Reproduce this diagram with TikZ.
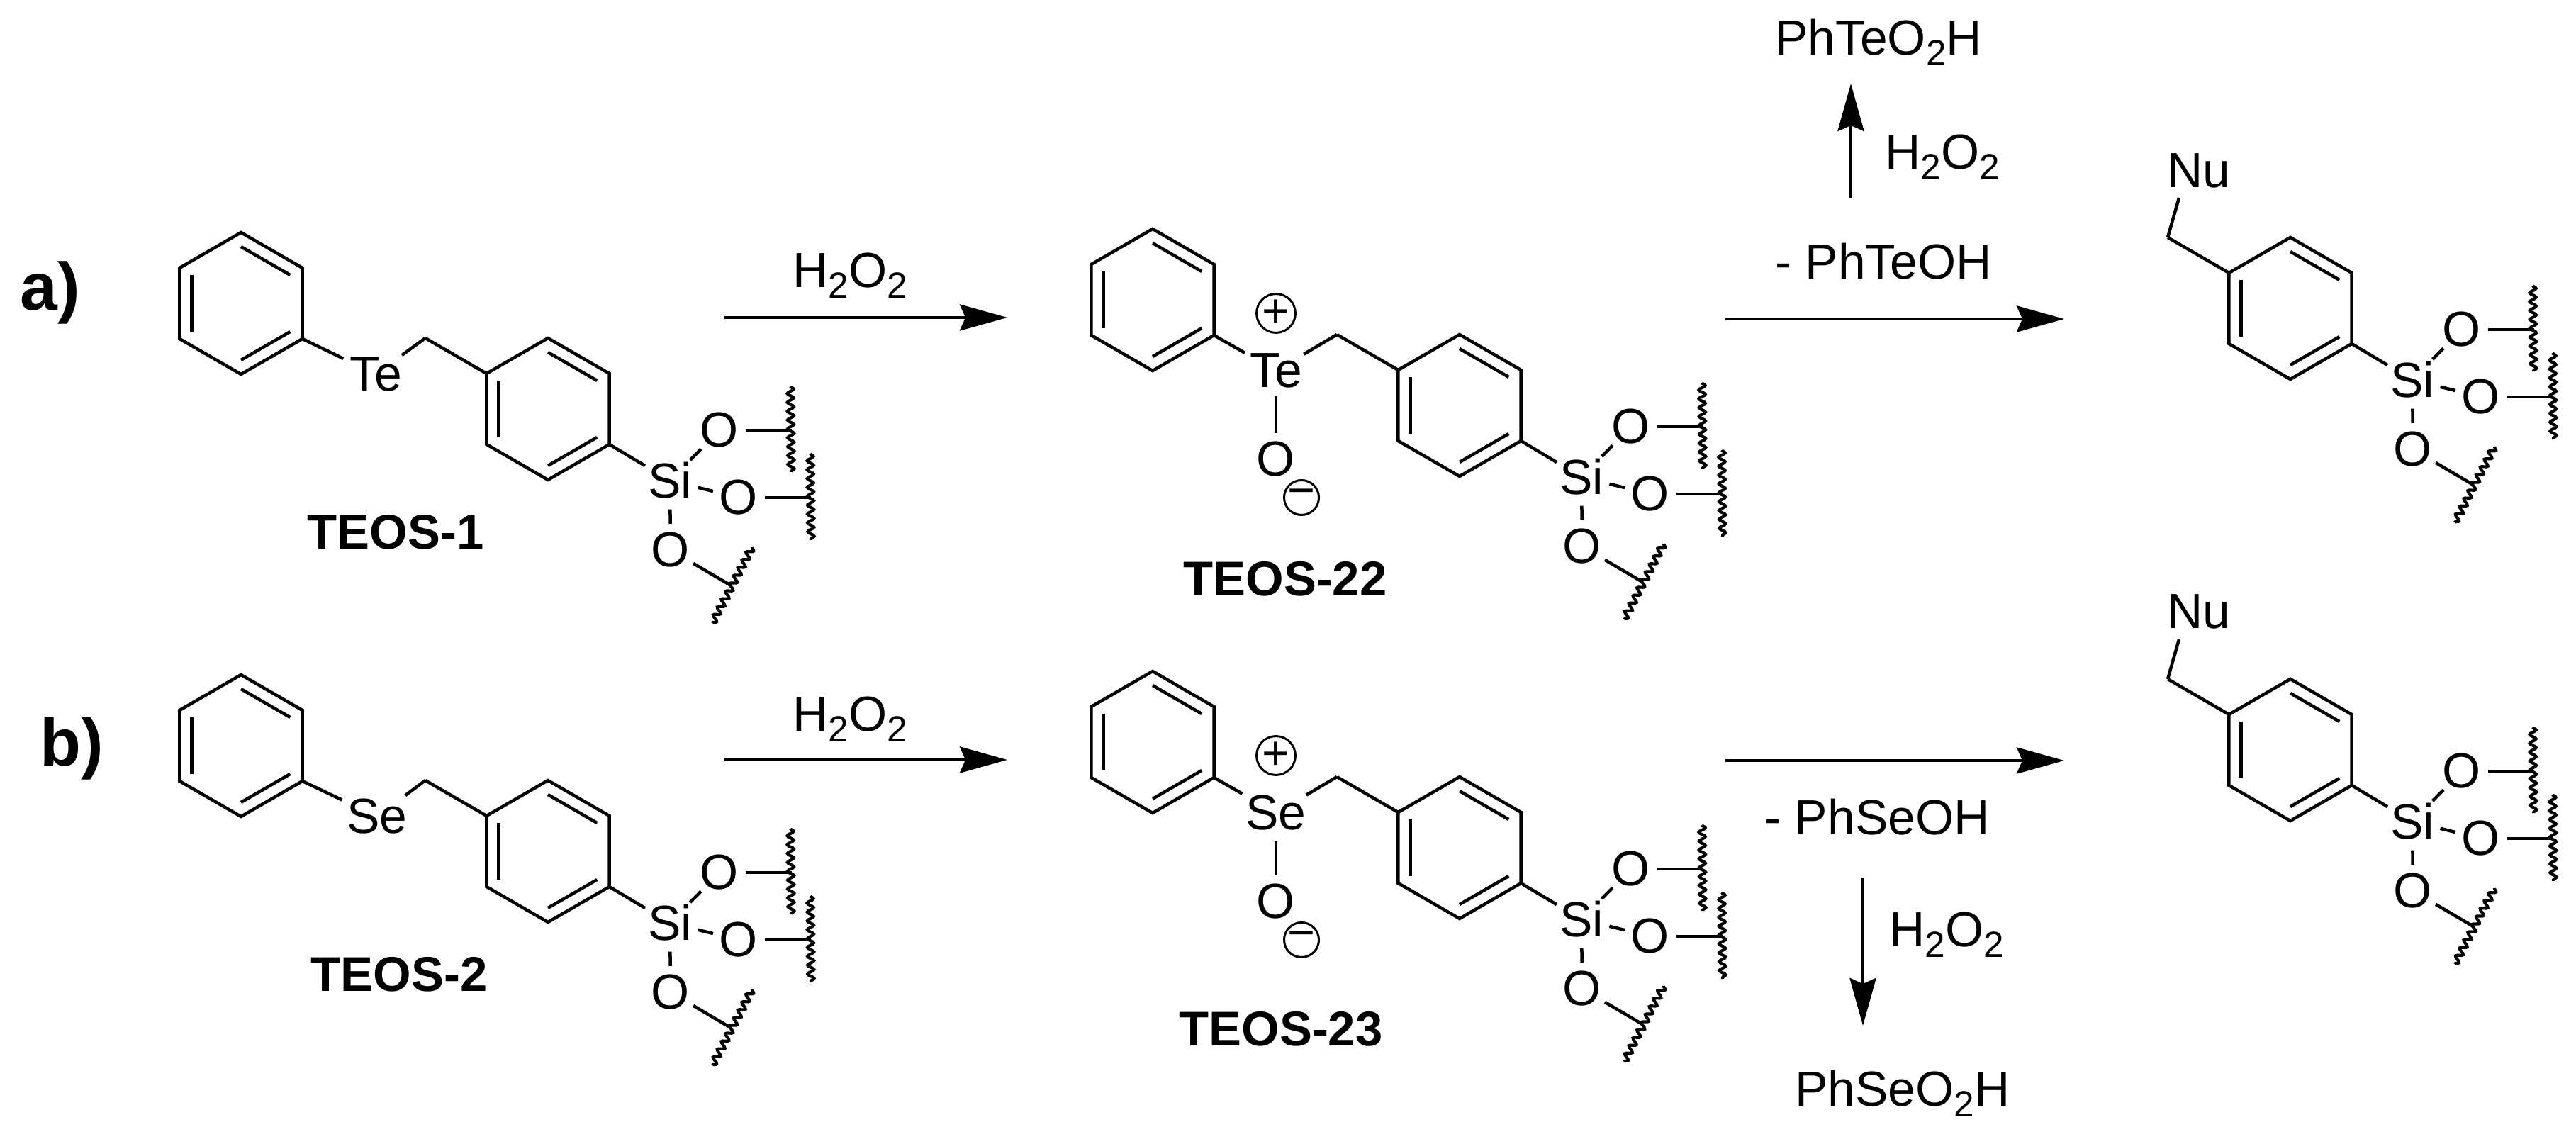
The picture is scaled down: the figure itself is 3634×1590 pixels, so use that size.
\documentclass[tikz,border=0pt]{standalone}
\usepackage{fontspec}
\setmainfont{Liberation Sans}
\usetikzlibrary{arrows.meta,decorations.pathmorphing}
\newcommand{\subtwo}{\raisebox{-1.5mm}{\fontsize{14.6pt}{14.6pt}\selectfont 2}}
\tikzset{
  x=0.1mm,y=-0.1mm,
  bond/.style={line width=0.45mm},
  wavy/.style={line width=0.42mm,decorate,decoration={snake,segment length=1.25mm,amplitude=0.45mm}},
  rxn/.style={line width=0.45mm,-{Stealth[length=6.7mm,width=3.7mm,inset=0.8mm]}},
  atomO/.style={circle,inner sep=0pt,minimum size=7.2mm,font=\fontsize{19.8pt}{20pt}\selectfont},
  atomSi/.style={circle,inner sep=0pt,minimum size=8mm,font=\fontsize{19.8pt}{20pt}\selectfont},
  atomX/.style={circle,inner sep=0pt,minimum size=9mm,font=\fontsize{19.8pt}{20pt}\selectfont},
  lab/.style={anchor=base,inner sep=0pt,font=\fontsize{19.8pt}{20pt}\selectfont},
  cmpd/.style={anchor=base,inner sep=0pt,font=\fontsize{19.6pt}{20pt}\selectfont\bfseries},
  part/.style={anchor=base,inner sep=0pt,font=\fontsize{27pt}{28pt}\selectfont\bfseries},
  charge/.style={circle,draw,line width=0.3mm,inner sep=0pt,minimum size=4.9mm,font=\fontsize{19pt}{19pt}\selectfont},
  phring/.pic={
    \draw[bond,line join=miter] (0,-100) coordinate (-a) -- (86.6,-50) coordinate (-b)
      -- (86.6,50) coordinate (-c) -- (0,100) coordinate (-d)
      -- (-86.6,50) coordinate (-e) -- (-86.6,-50) coordinate (-f) -- cycle;
    \draw[bond] (0,-80) -- (69.3,-40);
    \draw[bond] (69.3,40) -- (0,80);
    \draw[bond] (-69.3,40) -- (-69.3,-40);
  },
  silyl/.pic={
    \coordinate (-ch2) at (0,0);
    \pic (-ring) at (173,100) {phring};
    \draw[bond] (-ch2) -- (-ring-f);
    \node[atomSi] (-si) at (345,201) {Si};
    \node[atomO] (-o1) at (415,130) {O};
    \node[atomO] (-o2) at (442,225) {O};
    \node[atomO] (-o3) at (346,299) {O};
    \draw[bond] (-ring-c) -- (-si);
    \draw[bond] (-si) -- (-o1);
    \draw[bond] (-si) -- (-o2);
    \draw[bond] (-si) -- (-o3);
    \coordinate (-e1) at (517,130);
    \coordinate (-e2) at (544,225);
    \coordinate (-e3) at (431,349);
    \draw[bond] (-o1) -- (-e1);
    \draw[bond] (-o2) -- (-e2);
    \draw[bond] (-o3) -- (-e3);
    \coordinate (-w1a) at (515,68);
    \coordinate (-w1b) at (516,189);
    \coordinate (-w2a) at (543,163);
    \coordinate (-w2b) at (544,285);
    \coordinate (-w3a) at (461,295);
    \coordinate (-w3b) at (405,402);
    \draw[wavy] (-w1a) -- (-w1b);
    \draw[wavy] (-w2a) -- (-w2b);
    \draw[wavy] (-w3a) -- (-w3b);
  }
}
\begin{document}
\begin{tikzpicture}
\path[fill=white,use as bounding box] (0,0) rectangle (3634,1590);

% part labels
\node[part] (la) at (71,438) {a)};
\node[part] (lb) at (101,1080) {b)};

% TEOS-1
\pic (p1) at (340,428) {phring};
\pic (m1) at (600,477) {silyl};
\node[atomX] (x1) at (530,528) {Te};
\draw[bond,shorten >=0.5mm] (p1-c) -- (x1);
\draw[bond] (x1) -- (m1-ch2);
\node[cmpd] (n1) at (558,775) {TEOS-1};

% TEOS-22
\pic (p2) at (1626,423) {phring};
\pic (m2) at (1886,472) {silyl};
\node[atomX] (x2) at (1800,523) {Te};
\node[atomO] (o2) at (1800,648) {O};
\node[charge] (cp2) at (1800,442) {+};
\node[charge] (cm2) at (1836,702) {−};
\draw[bond,shorten >=0.5mm] (p2-c) -- (x2);
\draw[bond] (x2) -- (m2-ch2);
\draw[bond,shorten <=-1mm] (x2) -- (o2);
\node[cmpd] (n2) at (1813,841) {TEOS-22};

% product a
\pic (m3) at (3058,335) {silyl};
\node[lab] (nua) at (3102,265) {Nu};
\coordinate (nuaend) at (3074,279);
\draw[bond] (m3-ch2) -- (nuaend);

% TEOS-2
\pic (p4) at (340,1052) {phring};
\pic (m4) at (600,1101) {silyl};
\node[atomX] (x4) at (532,1152) {Se};
\draw[bond,shorten >=0.5mm] (p4-c) -- (x4);
\draw[bond] (x4) -- (m4-ch2);
\node[cmpd] (n4) at (563,1398) {TEOS-2};

% TEOS-23
\pic (p5) at (1626,1047) {phring};
\pic (m5) at (1886,1096) {silyl};
\node[atomX] (x5) at (1800,1147) {Se};
\node[atomO] (o5) at (1800,1272) {O};
\node[charge] (cp5) at (1800,1066) {+};
\node[charge] (cm5) at (1836,1326) {−};
\draw[bond,shorten >=0.5mm] (p5-c) -- (x5);
\draw[bond] (x5) -- (m5-ch2);
\draw[bond,shorten <=-1mm] (x5) -- (o5);
\node[cmpd] (n5) at (1807,1475) {TEOS-23};

% product b
\pic (m6) at (3058,958) {silyl};
\node[lab] (nub) at (3102,887) {Nu};
\coordinate (nubend) at (3074,902);
\draw[bond] (m6-ch2) -- (nubend);

% reaction arrows, row a
\coordinate (a1s) at (1022,448); \coordinate (a1e) at (1421,448);
\draw[rxn] (a1s) -- (a1e);
\node[lab] (a1t) at (1199,406) {H\subtwo O\subtwo};
\coordinate (a2s) at (2434,450); \coordinate (a2e) at (2912,450);
\draw[rxn] (a2s) -- (a2e);
\node[lab] (a2t) at (2657,394) {- PhTeOH};
\coordinate (a3s) at (2611,280); \coordinate (a3e) at (2611,118);
\draw[rxn] (a3s) -- (a3e);
\node[lab] (a3t) at (2740,239) {H\subtwo O\subtwo};
\node[lab] (a3p) at (2650,78) {PhTeO\subtwo H};

% reaction arrows, row b
\coordinate (b1s) at (1022,1072); \coordinate (b1e) at (1421,1072);
\draw[rxn] (b1s) -- (b1e);
\node[lab] (b1t) at (1199,1031) {H\subtwo O\subtwo};
\coordinate (b2s) at (2434,1073); \coordinate (b2e) at (2912,1073);
\draw[rxn] (b2s) -- (b2e);
\node[lab] (b2t) at (2648,1177) {- PhSeOH};
\coordinate (b3s) at (2628,1238); \coordinate (b3e) at (2628,1447);
\draw[rxn] (b3s) -- (b3e);
\node[lab] (b3t) at (2746,1335) {H\subtwo O\subtwo};
\node[lab] (b3p) at (2684,1560) {PhSeO\subtwo H};
\end{tikzpicture}
\end{document}
